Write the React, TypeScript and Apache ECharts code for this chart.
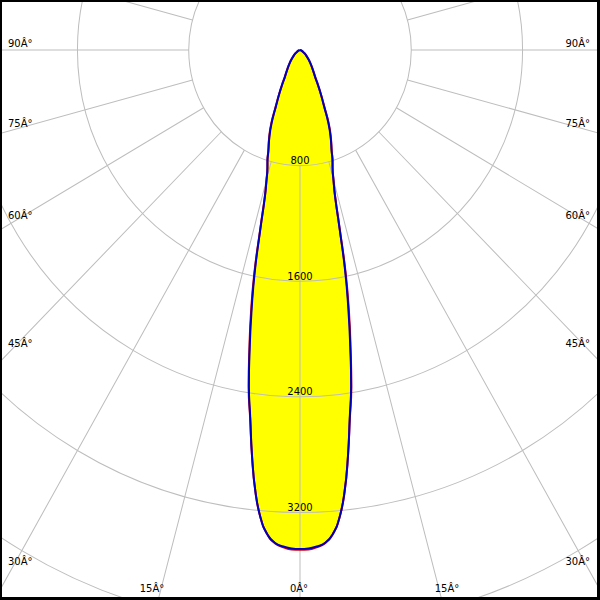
import React, { useEffect, useRef } from "react";
import * as echarts from "echarts";

// Polar angle (degrees from nadir) and luminous intensity (cd) for the two C-planes
const ANGLES = [0, 1, 2, 3, 4, 5, 6, 7, 8, 9, 10, 11, 12, 13, 14, 15, 16, 17, 18, 20, 22, 24, 26, 28, 30, 35, 40, 45, 50, 55, 60, 70, 80, 90];
const C90_VALUES = [3453, 3450, 3438, 3416, 3360, 3250, 3070, 2830, 2570, 2350, 2080, 1820, 1560, 1260, 1040, 930, 850, 800, 735, 645, 545, 425, 345, 278, 222, 155, 112, 80, 56, 38, 24, 9, 2, 0];
const C0_VALUES = [3458, 3456, 3442, 3418, 3360, 3250, 3070, 2830, 2575, 2360, 2095, 1845, 1580, 1268, 1045, 930, 850, 800, 740, 650, 555, 430, 345, 278, 222, 155, 112, 80, 56, 38, 24, 9, 2, 0];

// Tick labels
const SIDE_LABELS = ["90Â°", "75Â°", "60Â°", "45Â°", "30Â°"];
const BOTTOM_LABELS = ["15Â°", "0Â°", "15Â°"];
const RADIUS_LABELS = [800, 1600, 2400, 3200];
const RADIUS_MIN = 800;
const RADIUS_MAX = 4800;
const RADIUS_STEP = 800;

// Layout constants
const CX = 300;
const CY = 50;
const PX_PER_CD = 0.1391;
const STRETCH = 1.039;
const SIDE_LABEL_Y = [43, 123, 215, 343, 561];
const BOTTOM_LABEL_X = [152, 299, 447];
const BOTTOM_LABEL_Y = 588;
const FONT = "10px 'DejaVu Sans', Verdana, sans-serif";
const GRID = "#bdbdbd";

function mirrored(values: number[]): [number, number][] {
  const out: [number, number][] = [];
  for (let i = ANGLES.length - 1; i > 0; i--) out.push([values[i], -ANGLES[i]]);
  for (let i = 0; i < ANGLES.length; i++) out.push([values[i], ANGLES[i]]);
  return out;
}

const toPre = (y: number) => CY + (y - CY) / STRETCH;

export default function App() {
  const ref = useRef<HTMLDivElement>(null);
  useEffect(() => {
    if (!ref.current) return;
    const chart = echarts.init(ref.current, undefined, { renderer: "svg" });
    const texts: any[] = [];
    SIDE_LABELS.forEach((t, i) => {
      texts.push({
        type: "text", x: 8, y: toPre(SIDE_LABEL_Y[i]), z: 10,
        style: { text: t, fill: "#000", font: FONT, textAlign: "left", textVerticalAlign: "middle" },
      });
      texts.push({
        type: "text", x: 590, y: toPre(SIDE_LABEL_Y[i]), z: 10,
        style: { text: t, fill: "#000", font: FONT, textAlign: "right", textVerticalAlign: "middle" },
      });
    });
    BOTTOM_LABELS.forEach((t, i) => {
      texts.push({
        type: "text", x: BOTTOM_LABEL_X[i], y: toPre(BOTTOM_LABEL_Y), z: 10,
        style: { text: t, fill: "#000", font: FONT, textAlign: "center", textVerticalAlign: "middle" },
      });
    });
    const rOuter = RADIUS_MAX * PX_PER_CD;
    chart.setOption({
      animation: false,
      backgroundColor: "#ffffff",
      polar: [
        { center: [CX, CY], radius: [RADIUS_MIN * PX_PER_CD, rOuter] },
        { center: [CX, CY], radius: [0, rOuter] },
      ],
      angleAxis: [
        {
          polarIndex: 0, type: "value", min: 0, max: 360, interval: 15, startAngle: -90, clockwise: true,
          axisLine: { show: false }, axisTick: { show: false }, axisLabel: { show: false },
          splitLine: { show: true, lineStyle: { color: GRID, width: 1 } },
        },
        { polarIndex: 1, type: "value", min: -180, max: 180, startAngle: 90, clockwise: true, show: false },
      ],
      radiusAxis: [
        {
          polarIndex: 0, type: "value", min: RADIUS_MIN, max: RADIUS_MAX, interval: RADIUS_STEP,
          axisLine: { show: false }, axisTick: { show: false },
          axisLabel: {
            show: true, showMinLabel: true, showMaxLabel: false, align: "center", verticalAlign: "bottom",
            margin: 0, color: "#000", fontSize: 10, fontFamily: "'DejaVu Sans', Verdana, sans-serif",
            formatter: (v: number) => (RADIUS_LABELS.indexOf(v) >= 0 ? String(v) : ""),
          },
          splitLine: { show: true, lineStyle: { color: GRID, width: 1 } },
        },
        { polarIndex: 1, type: "value", min: 0, max: RADIUS_MAX, show: false },
      ],
      series: [
        {
          type: "line", coordinateSystem: "polar", polarIndex: 1, data: mirrored(C90_VALUES),
          symbol: "none", smooth: true, clip: false, silent: true, z: -1,
          lineStyle: { width: 0, opacity: 0 }, areaStyle: { color: "#ffff00", opacity: 1 },
        },
        {
          type: "line", coordinateSystem: "polar", polarIndex: 1, data: mirrored(C0_VALUES),
          symbol: "none", smooth: true, clip: false, silent: true, z: 5,
          lineStyle: { width: 2, color: "#d40000" },
        },
        {
          type: "line", coordinateSystem: "polar", polarIndex: 1, data: mirrored(C90_VALUES),
          symbol: "none", smooth: true, clip: false, silent: true, z: 6,
          lineStyle: { width: 2, color: "#0000c0" },
        },
      ],
      graphic: texts,
    });
    return () => chart.dispose();
  }, []);

  return (
    <div style={{ position: "absolute", left: 0, top: 0, width: 600, height: 600, overflow: "hidden", background: "#fff" }}>
      <div
        ref={ref}
        style={{ position: "absolute", left: 0, top: 0, width: 600, height: 600, transform: `scaleY(${STRETCH})`, transformOrigin: `${CX}px ${CY}px` }}
      />
      <div
        style={{
          position: "absolute", left: 0, top: 0, width: 600, height: 600, boxSizing: "border-box",
          borderTop: "2px solid #000", borderLeft: "2px solid #000", borderRight: "3px solid #000", borderBottom: "3px solid #000",
          pointerEvents: "none",
        }}
      />
    </div>
  );
}
